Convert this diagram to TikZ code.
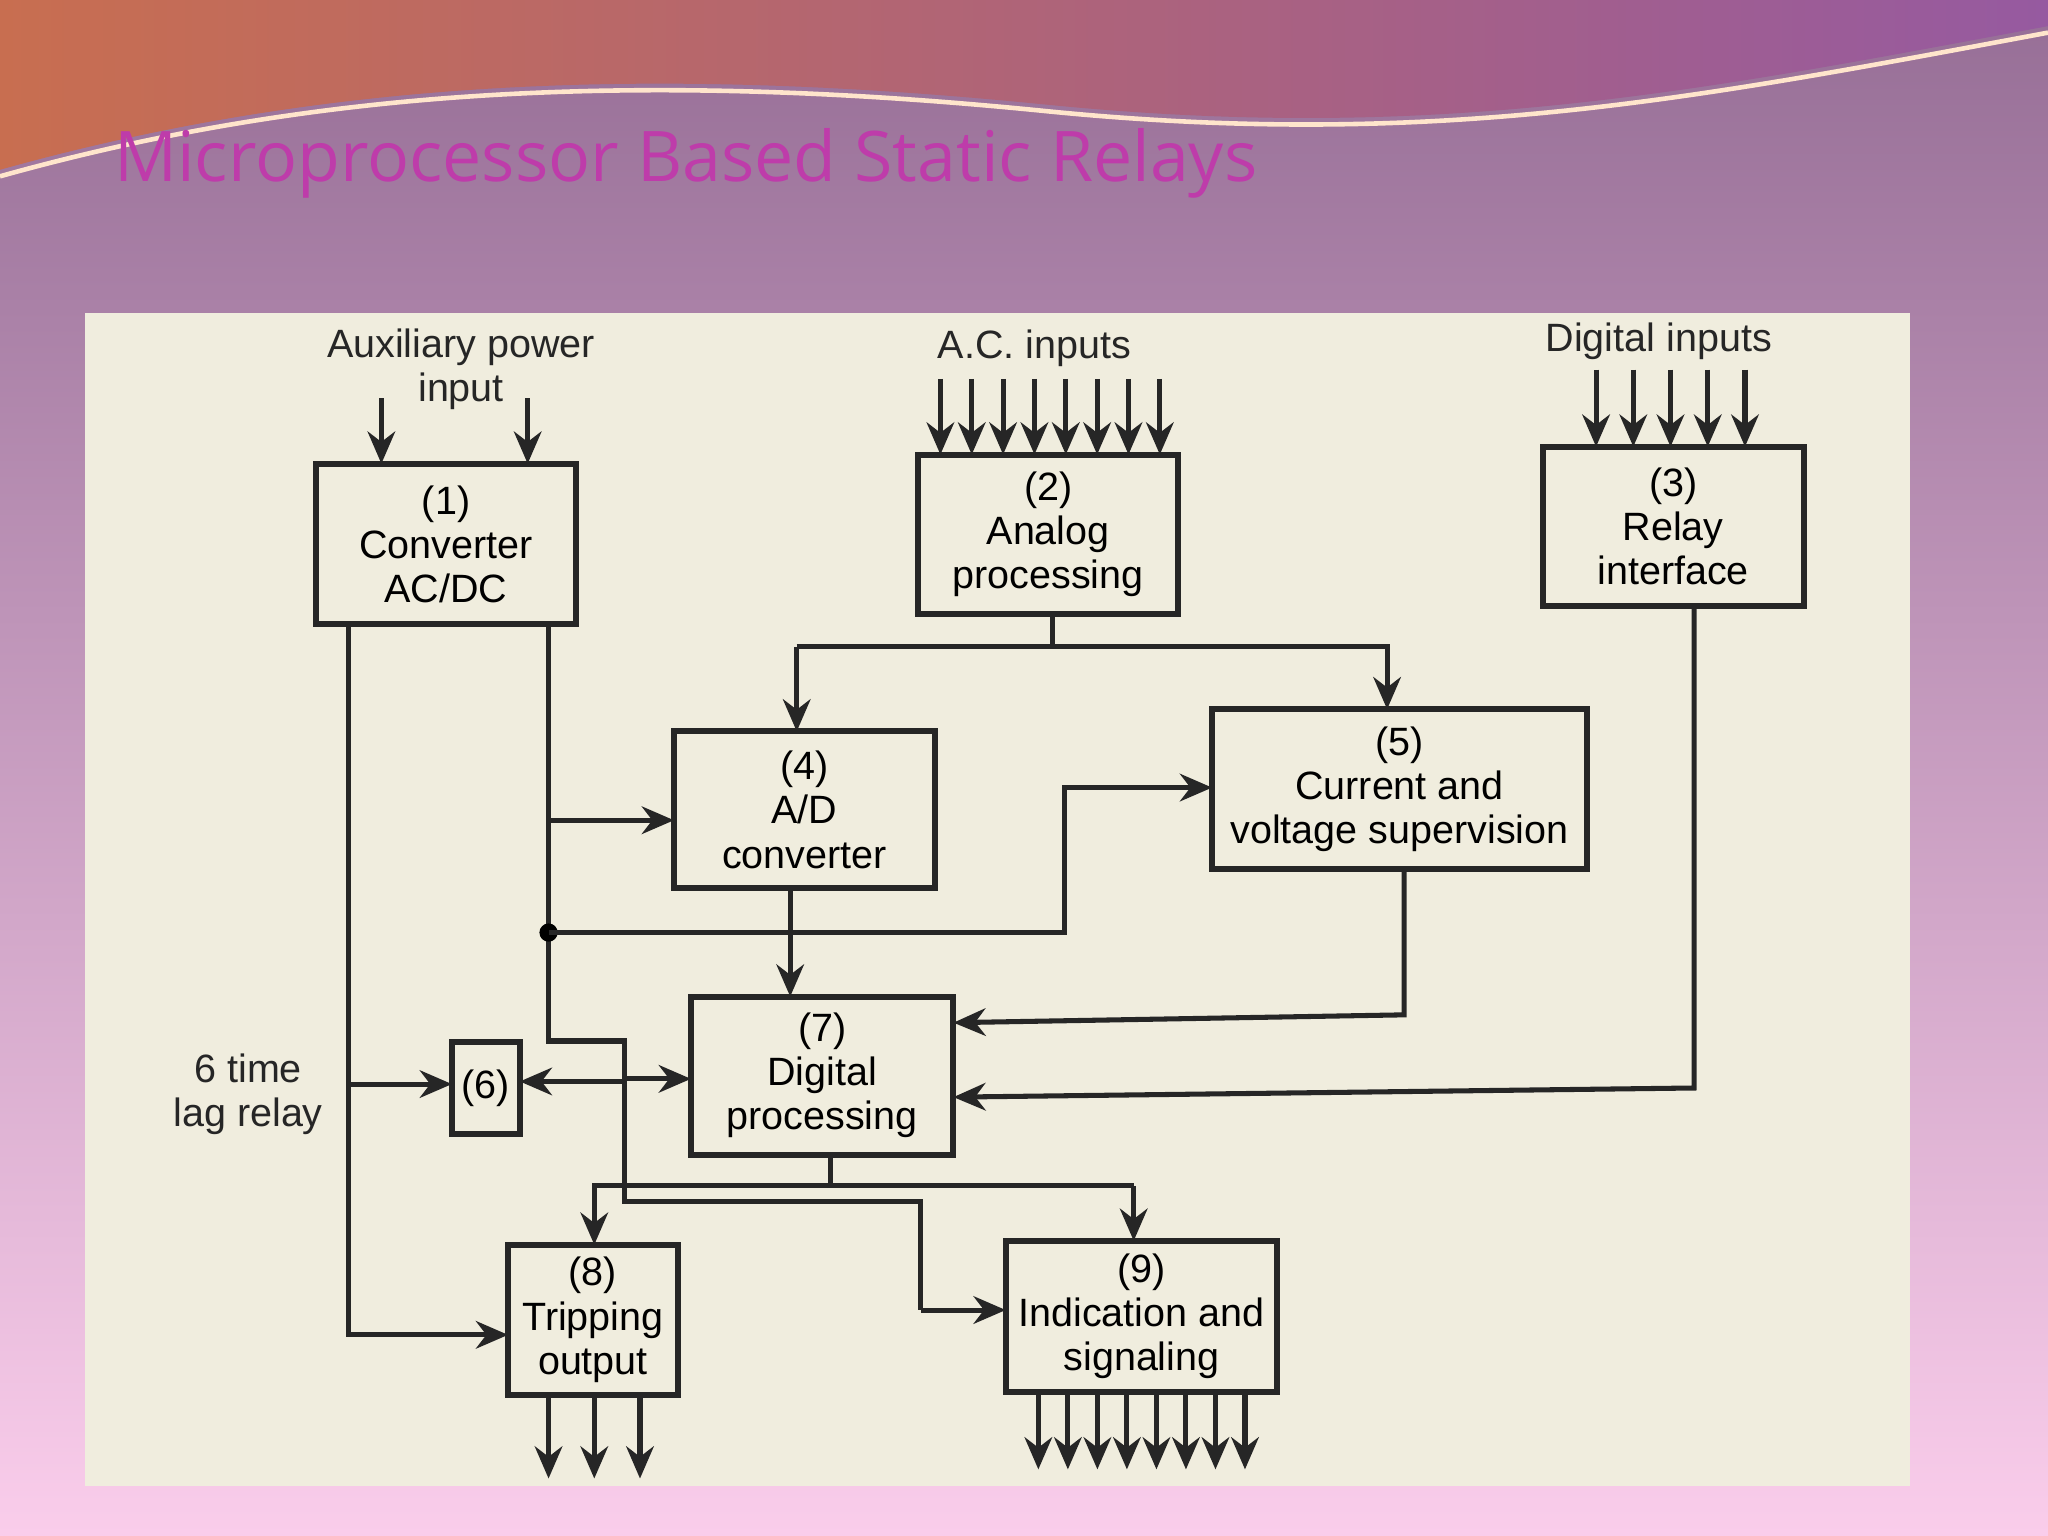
\documentclass[tikz,border=0pt]{standalone}
\usepackage{fontspec}
\setmainfont{Liberation Sans}
\newfontfamily\titlefont{Open Sans}
\usetikzlibrary{arrows.meta}
\definecolor{bgtop}{RGB}{150,110,150}
\definecolor{bgbot}{RGB}{250,205,235}
\definecolor{bandl}{RGB}{200,110,80}
\definecolor{bandr}{RGB}{150,90,160}
\definecolor{titlec}{RGB}{190,60,170}
\definecolor{paper}{RGB}{240,237,222}
\begin{document}
\begin{tikzpicture}[x=0.01cm,y=-0.01cm,
  blk/.style={draw=black!85,line width=1.3pt,fill=none,align=center,inner sep=1pt,font=\fontsize{8.6}{9.6}\selectfont},
  ln/.style={draw=black!85,line width=1.1pt},
  ar/.style={ln,-{Stealth[length=7pt,width=6pt]}},
  lbl/.style={align=center,inner sep=1pt,font=\fontsize{8.6}{9.6}\selectfont,text=black!85}]
\useasboundingbox (0,0) rectangle (1568,1176);
\shade[top color=bgtop,bottom color=bgbot] (0,0) rectangle (1568,1176);
\shade[left color=bandl,right color=bandr]
  (0,0) -- (1568,0) -- (1568,20) .. controls (1300,70) and (1100,110) .. (800,80) .. controls (500,50) and (250,60) .. (0,130) -- cycle;
\draw[white!80!orange,line width=1pt] (0,135) .. controls (250,65) and (500,55) .. (800,85) .. controls (1100,115) and (1300,75) .. (1568,25);
\node[anchor=west,text=titlec,font=\titlefont\fontsize{15.2}{18}\selectfont] (title) at (75,125) {Microprocessor Based Static Relays};
\fill[paper] (65,240) rectangle (1462,1138);

\node[blk,minimum width=199*0.01cm,minimum height=123*0.01cm] (b1) at (341.5,416.5) {(1)\\Converter\\AC/DC};
\node[blk,minimum width=199*0.01cm,minimum height=122*0.01cm] (b2) at (802.5,409) {(2)\\Analog\\processing};
\node[blk,minimum width=200*0.01cm,minimum height=122*0.01cm] (b3) at (1281,403) {(3)\\Relay\\interface};
\node[blk,minimum width=200*0.01cm,minimum height=120*0.01cm] (b4) at (616,620) {(4)\\A/D\\converter};
\node[blk,minimum width=287*0.01cm,minimum height=122*0.01cm] (b5) at (1071.5,604) {(5)\\Current and\\voltage supervision};
\node[blk,minimum width=201*0.01cm,minimum height=121*0.01cm] (b7) at (629.5,823.5) {(7)\\Digital\\processing};
\node[blk,minimum width=52*0.01cm,minimum height=70*0.01cm,inner sep=0pt] (b6) at (372,833) {(6)};
\node[blk,minimum width=130*0.01cm,minimum height=115*0.01cm] (b8) at (454,1010.5) {(8)\\Tripping\\output};
\node[blk,minimum width=208*0.01cm,minimum height=116*0.01cm] (b9) at (874,1008) {(9)\\Indication and\\signaling};

\node[lbl] (aux) at (353,283) {Auxiliary power\\input};
\node[lbl] (acin) at (792,267) {A.C. inputs};
\node[lbl] (digin) at (1270,261) {Digital inputs};
\node[lbl] (lag) at (190,838) {6 time\\lag relay};

\foreach \x in {292,404} \draw[ar] (\x,305) -- (\x,355);
\foreach \i in {0,...,7} \draw[ar] (720+24*\i,290) -- (720+24*\i,348);
\foreach \i in {0,...,4} \draw[ar] (1222+28.5*\i,283) -- (1222+28.5*\i,342);

\draw[ln] (806,470) -- (806,495);
\draw[ar] (610,495) -- (1062,495) -- (1062,543);
\draw[ar] (610,495) -- (610,560);

\coordinate (dot) at (420,714);
\draw[ln] (420,478) -- (420,797) -- (478,797) -- (478,920) -- (705,920) -- (705,1003);
\draw[ar] (705,1003) -- (770,1003);
\draw[ar] (420,628) -- (516,628);
\fill (dot) circle (7);
\draw[ar] (dot) -- (815,714) -- (815,603) -- (928,603);
\draw[ar] (478,826) -- (529,826);
\draw[ar] (478,828) -- (398,828);
\draw[ar] (605,680) -- (605,763);

\draw[ar] (267,478) -- (267,1022) -- (389,1022);
\draw[ar] (267,830) -- (346,830);

\draw[ar] (1075,665) -- (1075,777) -- (730,783);
\draw[ar] (1297,464) -- (1297,833) -- (730,840);

\draw[ln] (636,884) -- (636,908);
\draw[ar] (868,908) -- (455,908) -- (455,953);
\draw[ar] (868,908) -- (868,950);

\foreach \x in {420,455,490} \draw[ar] (\x,1068) -- (\x,1132);
\foreach \i in {0,...,7} \draw[ar] (795+22.6*\i,1066) -- (795+22.6*\i,1125);
\end{tikzpicture}
\end{document}
